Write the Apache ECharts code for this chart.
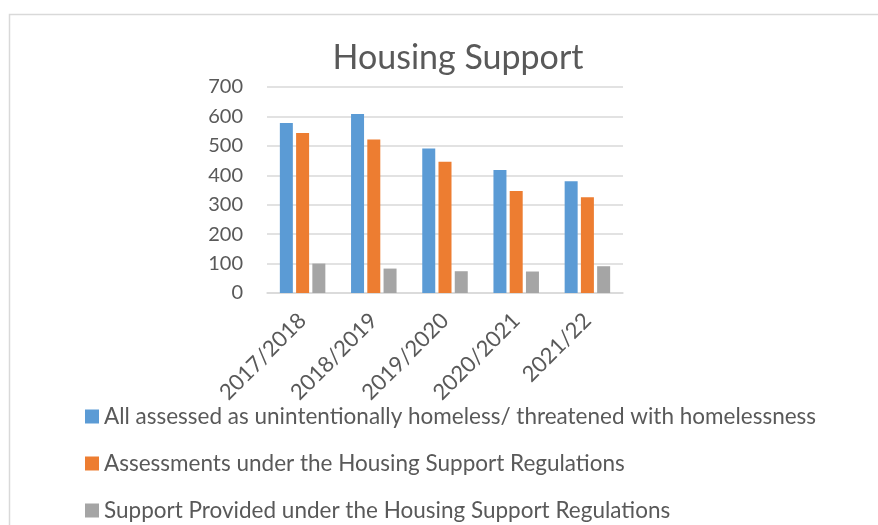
<!DOCTYPE html>
<html>
<head>
<meta charset="utf-8">
<script src="https://cdn.jsdelivr.net/npm/echarts@6/dist/echarts.min.js"></script>
<style>
  html, body { margin: 0; padding: 0; background: #fff; }
  #chart { width: 878px; height: 525px; }
</style>
</head>
<body>
<div id="chart"></div>
<script>
const years = ["2017/2018", "2018/2019", "2019/2020", "2020/2021", "2021/22"];
const allAssessed = [578, 608, 491, 418, 380];
const assessments = [544, 522, 446, 347, 325];
const supportProvided = [100, 83, 74, 73, 91];
const seriesNames = [
  "All assessed as unintentionally homeless/ threatened with homelessness",
  "Assessments under the Housing Support Regulations",
  "Support Provided under the Housing Support Regulations"
];

const font = "Lato, 'Open Sans', sans-serif";
const textColor = "#595959";

const chart = echarts.init(document.getElementById("chart"), null, { renderer: "canvas" });

function bar(name, data) {
  return { name, type: "bar", data, barWidth: 13, barGap: "25%" };
}

// one legend per row, otherwise the vertical legend wraps into columns
const legendRows = [418, 465, 512];
const legends = seriesNames.map((name, i) => ({
  orient: "vertical",
  left: 85,
  top: legendRows[i] - 13,
  padding: 0,
  itemWidth: 14,
  itemHeight: 14,
  icon: "rect",
  textStyle: { fontFamily: font, fontSize: 22.5, color: textColor },
  data: [name]
}));

chart.setOption({
  animation: false,
  color: ["#5B9BD5", "#ED7D31", "#A5A5A5"],
  graphic: [
    {
      type: "rect",
      shape: { x: 9.5, y: 14.5, width: 900, height: 600 },
      style: { fill: "none", stroke: "#D9D9D9", lineWidth: 1.5 },
      silent: true
    }
  ],
  title: {
    text: "Housing Support",
    left: 453,
    textAlign: "center",
    top: 36,
    textStyle: { fontFamily: font, fontSize: 34, fontWeight: "normal", color: textColor }
  },
  legend: legends,
  grid: { left: 267, right: 255, top: 87, bottom: 232, containLabel: false },
  xAxis: {
    type: "category",
    data: years,
    axisLine: { lineStyle: { color: "#D9D9D9", width: 1.5 } },
    axisTick: { show: false },
    axisLabel: { rotate: 45, fontFamily: font, fontSize: 22, color: textColor, margin: 24, interval: 0 }
  },
  yAxis: {
    type: "value",
    min: 0,
    max: 700,
    interval: 100,
    axisLine: { show: false },
    axisTick: { show: false },
    axisLabel: { fontFamily: font, fontSize: 20, color: textColor, margin: 24 },
    splitLine: { lineStyle: { color: "#D9D9D9", width: 1.5 } }
  },
  series: [
    bar(seriesNames[0], allAssessed),
    bar(seriesNames[1], assessments),
    bar(seriesNames[2], supportProvided)
  ]
});
</script>
</body>
</html>
